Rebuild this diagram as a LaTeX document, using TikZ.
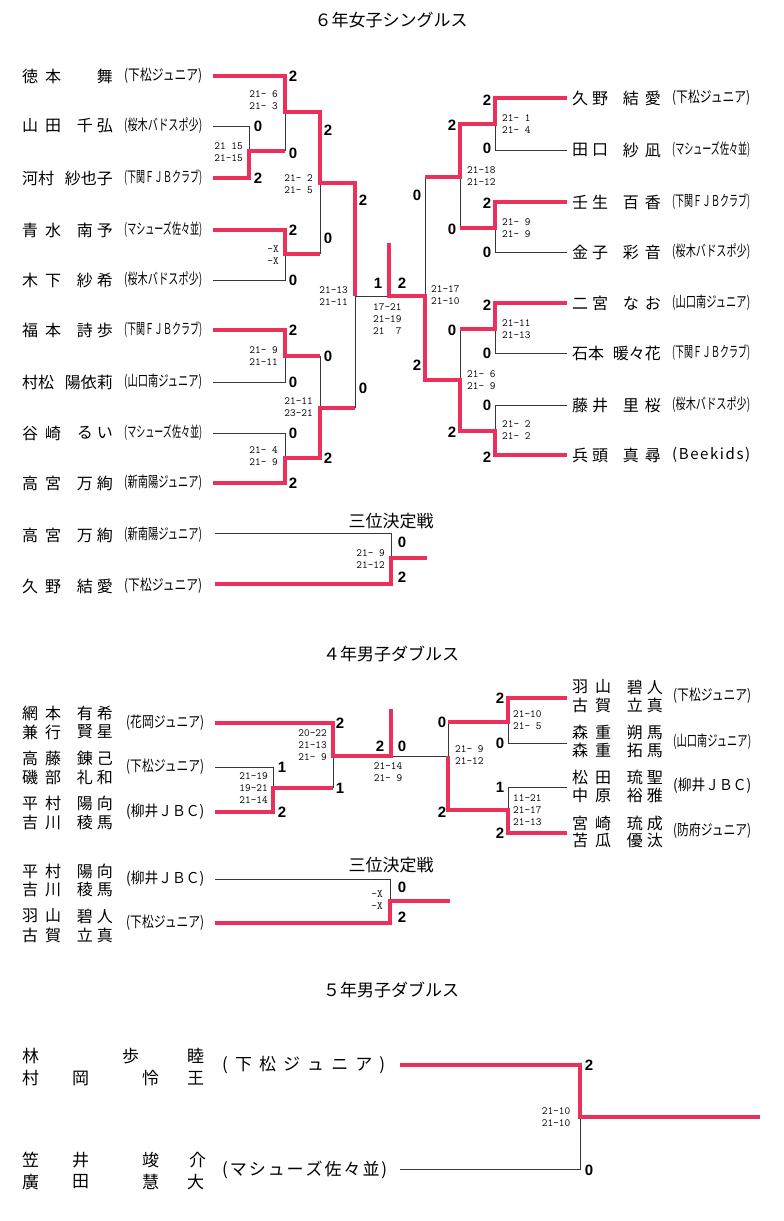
\documentclass[tikz,border=0pt]{standalone}
\usepackage{fontspec}
\usepackage{graphicx}
\newfontfamily\jp{Noto Sans CJK JP}
\newfontfamily\numf{Liberation Sans}
\definecolor{wred}{RGB}{236,48,92}
\definecolor{lgray}{RGB}{55,55,55}
\tikzset{
 win/.style={draw=wred, line width=3.6pt},
 lose/.style={draw=lgray, line width=1pt},
 nm/.style={inner sep=0pt, font=\jp\fontsize{16}{16}\selectfont},
 nmb/.style={inner sep=0pt, anchor=west, font=\jp\fontsize{17}{17}\selectfont},
 cl/.style={inner sep=0pt, anchor=west, font=\jp\fontsize{15}{15}\selectfont},
 bs/.style={inner sep=0pt, font=\numf\bfseries\fontsize{15}{15}\selectfont},
 ss/.style={inner sep=0pt, font=\ttfamily\fontsize{11}{12}\selectfont},
 ttl/.style={inner sep=0pt, font=\jp\fontsize{17}{17}\selectfont},
}
\newcommand\fgap{\hspace{7pt}}
\newcommand\ggap{\hspace{4pt}}
\newcommand\NM[6]{\node[nm,anchor=west] (#1f) at (#2,#4) {#5}; \node[nm,anchor=east] (#1g) at (#3,#4) {#6};}
\newcommand\CL[4]{\node[cl] (#1) at (#2,#3) {\resizebox{78pt}{\height}{#4}};}
\begin{document}
\begin{tikzpicture}[x=1pt,y=-1pt]
\useasboundingbox (0,0) rectangle (784,1221);
\fill[white] (0,0) rectangle (784,1221);

%================ 6年女子シングルス
\node[ttl] (t6) at (391,20) {６年女子シングルス};

\NM{l1}{22}{113}{76}{徳\fgap 本}{舞}
\NM{l2}{22}{113}{126}{山\fgap 田}{千\ggap 弘}
\NM{l3}{22}{113}{178}{河村}{紗也子}
\NM{l4}{22}{113}{230}{青\fgap 水}{南\ggap 予}
\NM{l5}{22}{113}{280}{木\fgap 下}{紗\ggap 希}
\NM{l6}{22}{113}{330}{福\fgap 本}{詩\ggap 歩}
\NM{l7}{22}{113}{382}{村松}{陽依莉}
\NM{l8}{22}{113}{433}{谷\fgap 崎}{る\ggap い}
\NM{l9}{22}{113}{483}{高\fgap 宮}{万\ggap 絢}
\CL{lc1}{124}{76}{(下松ジュニア)}
\CL{lc2}{124}{126}{(桜木バドスポ少)}
\CL{lc3}{124}{178}{(下関ＦＪＢクラブ)}
\CL{lc4}{124}{230}{(マシューズ佐々並)}
\CL{lc5}{124}{280}{(桜木バドスポ少)}
\CL{lc6}{124}{330}{(下関ＦＪＢクラブ)}
\CL{lc7}{124}{382}{(山口南ジュニア)}
\CL{lc8}{124}{433}{(マシューズ佐々並)}
\CL{lc9}{124}{483}{(新南陽ジュニア)}

\NM{r1}{572}{661}{98}{久\hspace{4pt}野}{結\hspace{6pt}愛}
\NM{r2}{572}{661}{150}{田\hspace{4pt}口}{紗\hspace{6pt}凪}
\NM{r3}{572}{661}{202}{壬\hspace{4pt}生}{百\hspace{6pt}香}
\NM{r4}{572}{661}{252}{金\hspace{4pt}子}{彩\hspace{6pt}音}
\NM{r5}{572}{661}{303}{二\hspace{4pt}宮}{な\hspace{6pt}お}
\NM{r6}{572}{661}{353}{石本}{暖々花}
\NM{r7}{572}{661}{405}{藤\hspace{4pt}井}{里\hspace{6pt}桜}
\NM{r8}{572}{661}{455}{兵\hspace{4pt}頭}{真\hspace{6pt}尋}
\CL{rc1}{672}{98}{(下松ジュニア)}
\CL{rc2}{672}{150}{(マシューズ佐々並)}
\CL{rc3}{672}{202}{(下関ＦＪＢクラブ)}
\CL{rc4}{672}{252}{(桜木バドスポ少)}
\CL{rc5}{672}{303}{(山口南ジュニア)}
\CL{rc6}{672}{353}{(下関ＦＪＢクラブ)}
\CL{rc7}{672}{405}{(桜木バドスポ少)}
\node[cl] (rc8) at (672,455) {\makebox[78pt][s]{(\hfill B\hfill e\hfill e\hfill k\hfill i\hfill d\hfill s\hfill )}};

% losers' lines
\draw[lose] (213,126)--(249,126)--(249,151);
\draw[lose] (285,112)--(285,151);
\draw[lose] (213,280)--(285,280)--(285,254);
\draw[lose] (320,183)--(320,254);
\draw[lose] (213,382)--(285,382)--(285,356);
\draw[lose] (213,433)--(285,433)--(285,458);
\draw[lose] (320,356)--(320,408);
\draw[lose] (355,296)--(355,408);
\draw[lose] (355,296)--(389,296);
\draw[lose] (567,150)--(495,150)--(495,124);
\draw[lose] (567,252)--(495,252)--(495,228);
\draw[lose] (460,177)--(460,228);
\draw[lose] (425,177)--(425,296);
\draw[lose] (567,353)--(495,353)--(495,329);
\draw[lose] (460,329)--(460,380);
\draw[lose] (567,405)--(495,405)--(495,431);
% winners' lines
\draw[win] (213,178)--(249,178)--(249,151)--(285,151);
\draw[win] (213,76)--(285,76)--(285,112)--(320,112)--(320,183)--(355,183)--(355,296);
\draw[win] (213,230)--(285,230)--(285,254)--(320,254);
\draw[win] (213,330)--(285,330)--(285,356)--(320,356);
\draw[win] (213,483)--(285,483)--(285,458)--(320,458)--(320,408)--(355,408);
\draw[win] (567,98)--(495,98)--(495,124)--(460,124)--(460,177)--(425,177);
\draw[win] (567,202)--(495,202)--(495,228)--(460,228);
\draw[win] (567,303)--(495,303)--(495,329)--(460,329);
\draw[win] (389,243)--(389,296)--(425,296)--(425,380)--(460,380)--(460,431)--(495,431)--(495,455)--(567,455);

% big scores left
\node[bs] (b1) at (293,76) {2};
\node[bs] (b2) at (258,126) {0};
\node[bs] (b3) at (258,178) {2};
\node[bs] (b4) at (293,153) {0};
\node[bs] (b5) at (328,130) {2};
\node[bs] (b6) at (293,230) {2};
\node[bs] (b7) at (293,280) {0};
\node[bs] (b8) at (328,238) {0};
\node[bs] (b9) at (363,200) {2};
\node[bs] (b10) at (293,330) {2};
\node[bs] (b11) at (293,382) {0};
\node[bs] (b12) at (328,356) {0};
\node[bs] (b13) at (293,433) {0};
\node[bs] (b14) at (293,483) {2};
\node[bs] (b15) at (328,458) {2};
\node[bs] (b16) at (363,388) {0};
\node[bs] (b17) at (378,283) {1};
\node[bs] (b18) at (402,283) {2};
% big scores right
\node[bs] (b19) at (487,100) {2};
\node[bs] (b20) at (487,148) {0};
\node[bs] (b21) at (452,125) {2};
\node[bs] (b22) at (487,203) {2};
\node[bs] (b23) at (487,252) {0};
\node[bs] (b24) at (452,229) {0};
\node[bs] (b25) at (417,195) {0};
\node[bs] (b26) at (487,305) {2};
\node[bs] (b27) at (487,353) {0};
\node[bs] (b28) at (452,330) {0};
\node[bs] (b29) at (487,405) {0};
\node[bs] (b30) at (487,457) {2};
\node[bs] (b31) at (452,432) {2};
\node[bs] (b32) at (417,365) {2};

% game scores
\node[ss,anchor=east,align=right] (s1) at (243,152) {21 15\\21-15};
\node[ss,anchor=east,align=right] (s2) at (278,100) {21- 6\\21- 3};
\node[ss,anchor=east,align=right] (s3) at (313,184) {21- 2\\21- 5};
\node[ss,anchor=east,align=right] (s4) at (279,255) {-X\\-X};
\node[ss,anchor=east,align=right] (s5) at (348,296) {21-13\\21-11};
\node[ss,anchor=east,align=right] (s6) at (278,356) {21- 9\\21-11};
\node[ss,anchor=east,align=right] (s7) at (313,407) {21-11\\23-21};
\node[ss,anchor=east,align=right] (s8) at (278,456) {21- 4\\21- 9};
\node[ss,anchor=west,align=left] (s9) at (373,319) {17-21\\21-19\\21\ \ 7};
\node[ss,anchor=west,align=left] (s10) at (502,124) {21- 1\\21- 4};
\node[ss,anchor=west,align=left] (s11) at (467,176) {21-18\\21-12};
\node[ss,anchor=west,align=left] (s12) at (502,228) {21- 9\\21- 9};
\node[ss,anchor=west,align=left] (s13) at (431,295) {21-17\\21-10};
\node[ss,anchor=west,align=left] (s14) at (502,329) {21-11\\21-13};
\node[ss,anchor=west,align=left] (s15) at (467,380) {21- 6\\21- 9};
\node[ss,anchor=west,align=left] (s16) at (502,430) {21- 2\\21- 2};

% third place (6年)
\node[ttl] (k6) at (391,521) {三位決定戦};
\NM{u1}{22}{113}{535}{高\fgap 宮}{万\ggap 絢}
\NM{u2}{22}{113}{586}{久\fgap 野}{結\ggap 愛}
\CL{uc1}{124}{535}{(新南陽ジュニア)}
\CL{uc2}{124}{586}{(下松ジュニア)}
\draw[lose] (215,533)--(391,533)--(391,558);
\draw[win] (215,584)--(391,584)--(391,558)--(427,558);
\node[bs] (b33) at (402,542) {0};
\node[bs] (b34) at (402,577) {2};
\node[ss,anchor=east,align=right] (s17) at (385,559) {21- 9\\21-12};

%================ 4年男子ダブルス
\node[ttl] (t4) at (391,654) {４年男子ダブルス};
\NM{a1}{22}{113}{713}{網\fgap 本}{有\ggap 希}
\NM{a2}{22}{113}{732}{兼\fgap 行}{賢\ggap 星}
\NM{a3}{22}{113}{758}{高\fgap 藤}{錬\ggap 己}
\NM{a4}{22}{113}{777}{磯\fgap 部}{礼\ggap 和}
\NM{a5}{22}{113}{803}{平\fgap 村}{陽\ggap 向}
\NM{a6}{22}{113}{822}{吉\fgap 川}{稜\ggap 馬}
\CL{ac1}{126}{723}{(花岡ジュニア)}
\CL{ac2}{126}{767}{(下松ジュニア)}
\CL{ac3}{126}{812}{(柳井ＪＢＣ)}

\NM{q1}{572}{663}{687}{羽\fgap 山}{碧\ggap 人}
\NM{q2}{572}{663}{705}{古\fgap 賀}{立\ggap 真}
\NM{q3}{572}{663}{732}{森\fgap 重}{朔\ggap 馬}
\NM{q4}{572}{663}{750}{森\fgap 重}{拓\ggap 馬}
\NM{q5}{572}{663}{777}{松\fgap 田}{琉\ggap 聖}
\NM{q6}{572}{663}{795}{中\fgap 原}{裕\ggap 雅}
\NM{q7}{572}{663}{823}{宮\fgap 崎}{琉\ggap 成}
\NM{q8}{572}{663}{840}{苫\fgap 瓜}{優\ggap 汰}
\CL{qc1}{673}{696}{(下松ジュニア)}
\CL{qc2}{673}{742}{(山口南ジュニア)}
\CL{qc3}{673}{786}{(柳井ＪＢＣ)}
\CL{qc4}{673}{831}{(防府ジュニア)}

\draw[lose] (215,767)--(273,767)--(273,788);
\draw[lose] (333,788)--(333,756);
\draw[lose] (391,756)--(448,756)--(448,722);
\draw[lose] (567,743)--(508,743)--(508,722);
\draw[lose] (567,787)--(508,787)--(508,810);
\draw[win] (215,812)--(273,812)--(273,788)--(333,788);
\draw[win] (215,723)--(333,723)--(333,756)--(391,756)--(391,709);
\draw[win] (567,698)--(508,698)--(508,722)--(448,722);
\draw[win] (567,833)--(508,833)--(508,810)--(448,810)--(448,756);

\node[bs] (d1) at (340,723) {2};
\node[bs] (d2) at (282,767) {1};
\node[bs] (d3) at (282,812) {2};
\node[bs] (d4) at (340,788) {1};
\node[bs] (d5) at (380,746) {2};
\node[bs] (d6) at (402,746) {0};
\node[bs] (d7) at (442,722) {0};
\node[bs] (d8) at (442,812) {2};
\node[bs] (d9) at (500,698) {2};
\node[bs] (d10) at (500,743) {0};
\node[bs] (d11) at (500,787) {1};
\node[bs] (d12) at (500,833) {2};

\node[ss,anchor=east,align=right] (e1) at (327,745) {20-22\\21-13\\21- 9};
\node[ss,anchor=east,align=right] (e2) at (268,788) {21-19\\19-21\\21-14};
\node[ss,align=center] (e3) at (388,772) {21-14\\21- 9};
\node[ss,anchor=west,align=left] (e4) at (455,755) {21- 9\\21-12};
\node[ss,anchor=west,align=left] (e5) at (513,720) {21-10\\21- 5};
\node[ss,anchor=west,align=left] (e6) at (513,810) {11-21\\21-17\\21-13};

% third place (4年)
\node[ttl] (k4) at (391,865) {三位決定戦};
\NM{v1}{22}{113}{871}{平\fgap 村}{陽\ggap 向}
\NM{v2}{22}{113}{889}{吉\fgap 川}{稜\ggap 馬}
\NM{v3}{22}{113}{916}{羽\fgap 山}{碧\ggap 人}
\NM{v4}{22}{113}{935}{古\fgap 賀}{立\ggap 真}
\CL{vc1}{126}{879}{(柳井ＪＢＣ)}
\CL{vc2}{126}{923}{(下松ジュニア)}
\draw[lose] (215,879)--(390,879)--(390,901);
\draw[win] (215,923)--(390,923)--(390,901)--(450,901);
\node[bs] (d13) at (402,887) {0};
\node[bs] (d14) at (402,917) {2};
\node[ss,anchor=east,align=right] (e7) at (383,900) {-X\\-X};

%================ 5年男子ダブルス
\node[ttl] (t5) at (391,990) {５年男子ダブルス};
\node[nmb] (f1) at (22,1056) {林};
\node[nmb] (f2) at (122,1056) {歩};
\node[nmb] (f3) at (187,1056) {睦};
\node[nmb] (f4) at (22,1078) {村};
\node[nmb] (f5) at (72,1078) {岡};
\node[nmb] (f6) at (142,1078) {怜};
\node[nmb] (f7) at (187,1078) {王};
\node[nmb] (f8) at (22,1160) {笠};
\node[nmb] (f9) at (72,1160) {井};
\node[nmb] (f10) at (142,1160) {竣};
\node[nmb] (f11) at (189,1160) {介};
\node[nmb] (f12) at (22,1182) {廣};
\node[nmb] (f13) at (72,1182) {田};
\node[nmb] (f14) at (142,1182) {慧};
\node[nmb] (f15) at (187,1182) {大};
\node[nmb] (fc1) at (222,1065) {\makebox[163pt][s]{(\hfill 下\hfill 松\hfill ジ\hfill ュ\hfill ニ\hfill ア\hfill )}};
\node[nmb] (fc2) at (222,1170) {\makebox[165pt][s]{(\hfill マ\hfill シ\hfill ュ\hfill ー\hfill ズ\hfill 佐\hfill 々\hfill 並\hfill )}};
\draw[lose] (400,1169)--(580,1169)--(580,1117);
\draw[win] (400,1065)--(580,1065)--(580,1117)--(760,1117);
\node[bs] (g1) at (589,1065) {2};
\node[bs] (g2) at (589,1170) {0};
\node[ss,align=center] (g3) at (556,1117) {21-10\\21-10};
\end{tikzpicture}
\end{document}
